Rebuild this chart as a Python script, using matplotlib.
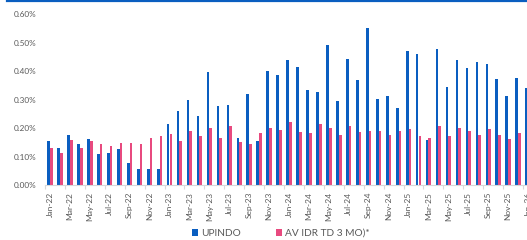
import numpy as np
import pandas as pd
import matplotlib
matplotlib.use("Agg")
import matplotlib.pyplot as plt
from matplotlib.lines import Line2D
from matplotlib.ticker import FuncFormatter, FixedLocator

plt.rcParams['font.family'] = ['Lato', 'DejaVu Sans']

# monthly categories, Jan-22 .. Jan-26 (last one is cropped in the original)
months = list(pd.date_range('2022-01-01', periods=49, freq='MS').strftime('%b-%y'))

# values in percent
upindo = [0.156, 0.129, 0.176, 0.143, 0.162, 0.108, 0.111, 0.127, 0.077, 0.056, 0.056, 0.056,
          0.213, 0.261, 0.299, 0.244, 0.396, 0.278, 0.280, 0.165, 0.319, 0.153, 0.400, 0.386,
          0.441, 0.414, 0.335, 0.326, 0.491, 0.295, 0.442, 0.370, 0.552, 0.304, 0.312, 0.271,
          0.470, 0.459, 0.157, 0.479, 0.343, 0.439, 0.411, 0.434, 0.424, 0.373, 0.313, 0.376,
          0.340]
av_idr = [0.131, 0.111, 0.158, 0.131, 0.155, 0.143, 0.137, 0.146, 0.148, 0.145, 0.164, 0.172,
          0.178, 0.155, 0.189, 0.171, 0.202, 0.164, 0.207, 0.151, 0.145, 0.183, 0.200, 0.193,
          0.220, 0.188, 0.182, 0.214, 0.202, 0.176, 0.207, 0.188, 0.190, 0.190, 0.177, 0.190,
          0.196, 0.171, 0.165, 0.207, 0.171, 0.202, 0.190, 0.177, 0.196, 0.177, 0.161, 0.183,
          np.nan]

yticks = [0.0, 0.1, 0.2, 0.3, 0.4, 0.5, 0.6]

blue = '#0A5EC0'
pink = '#E84A7F'
grey_txt = '#595959'
axis_grey = '#D9D9D9'

W, H = 527, 240
fig = plt.figure(figsize=(W / 100, H / 100), dpi=100)
# axes runs past the right edge, like the cropped original
ax = fig.add_axes([45 / W, 55 / H, 49 * 9.96 / W, 170.7 / H])

x = np.arange(len(months))
bw = 0.27
ax.bar(x - 0.136, upindo, width=bw, color=blue, label='UPINDO', linewidth=0)
ax.bar(x + 0.136, av_idr, width=bw, color=pink, label='AV IDR TD 3 MO)*', linewidth=0)

ax.set_xlim(-0.5, len(months) - 0.5)
ax.set_ylim(0, 0.6)
ax.set_yticks(yticks)
ax.yaxis.set_major_formatter(FuncFormatter(lambda v, p: f'{v:.2f}%'))
ax.tick_params(axis='y', length=0, pad=6.5, labelsize=5.9, labelcolor=grey_txt)

ax.set_xticks(x[::2])
ax.set_xticklabels(months[::2], rotation=90)
ax.xaxis.set_minor_locator(FixedLocator(np.arange(-0.5, len(months), 2)))
ax.tick_params(axis='x', which='major', length=0, pad=5, labelsize=6.0, labelcolor=grey_txt)
ax.tick_params(axis='x', which='minor', length=3, width=0.8, color=axis_grey)

for s in ['top', 'right', 'left']:
    ax.spines[s].set_visible(False)
ax.spines['bottom'].set_color(axis_grey)
ax.spines['bottom'].set_linewidth(0.8)

fig.legend(loc='center', bbox_to_anchor=(281 / W, 6.5 / H), ncol=2, frameon=False,
           fontsize=7.3, labelcolor=grey_txt, handlelength=0.6, handleheight=0.6,
           handletextpad=0.35, columnspacing=3.4, borderpad=0)

# blue rule along the top edge
fig.add_artist(Line2D([7 / W, 1], [1 - 0.8 / H, 1 - 0.8 / H], color=blue, linewidth=1.6))

fig.savefig('out.png', dpi=100)
